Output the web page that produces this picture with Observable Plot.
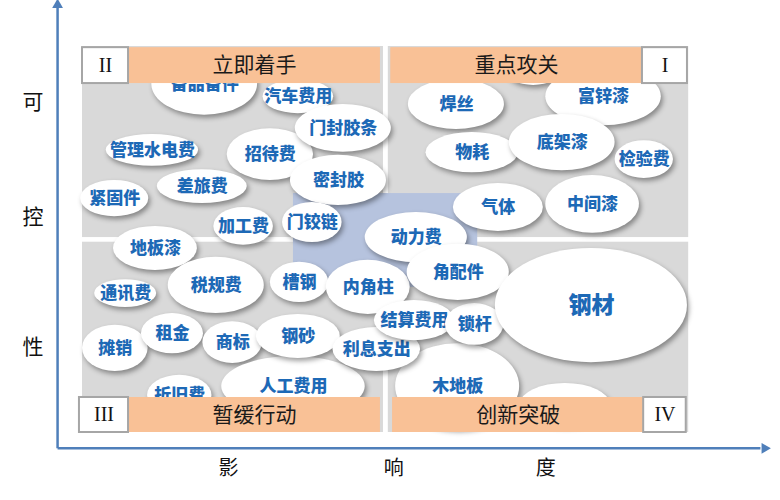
<!DOCTYPE html>
<html>
<head>
<meta charset="utf-8">
<script src="https://cdn.jsdelivr.net/npm/d3@7"></script>
<script src="https://cdn.jsdelivr.net/npm/@observablehq/plot@0.6"></script>
<style>
  body { margin: 0; background: #fff; }
  #chart svg { display: block; }
  g[aria-description="bubble"] rect { filter: drop-shadow(2px 3px 2.5px rgba(0,0,0,0.38)); }
</style>
</head>
<body>
<div id="chart"></div>
<script>
// Bubble labels (drawn in this order), impact (x), controllability (y), spread in x and y
const labels = ["备品备件","汽车费用","招待费","门封胶条","密封胶","管理水电费","差旅费","紧固件","加工费","门铰链",
  "","焊丝","富锌漆","物耗","底架漆","检验费","气体","中间漆","动力费","地板漆",
  "通讯费","税规费","槽钢","内角柱","摊销","租金","商标","人工费用","钢砂","折旧费",
  "木地板","利息支出","结算费用","锁杆","角配件","钢材",""];
const impact = [2.01,3.55,3.09,4.29,4.21,1.15,1.97,0.53,2.65,3.78,
  7.42,6.15,8.57,6.41,7.89,9.24,6.84,8.39,5.49,1.20,
  0.71,2.20,3.57,4.70,0.54,1.48,2.47,3.47,3.55,1.60,
  6.17,4.84,5.46,6.45,6.18,8.37,7.94];
const control = [9.02,8.70,7.20,7.88,6.53,7.31,6.37,6.06,5.34,5.44,
  9.38,8.50,8.70,7.25,7.51,7.07,5.83,5.91,5.05,4.77,
  3.60,3.81,3.89,3.76,2.18,2.56,2.33,1.19,2.49,0.96,
  1.19,2.15,2.90,2.80,4.15,3.29,0.72];
const spreadX = [0.87,0.58,0.71,0.79,0.79,0.76,0.74,0.56,0.49,0.49,
  0.46,0.79,0.95,0.76,0.87,0.48,0.74,0.77,0.84,0.69,
  0.51,0.79,0.48,0.69,0.54,0.51,0.49,1.18,0.69,0.53,
  1.02,0.72,0.66,0.48,0.84,1.58,0.74];
const spreadY = [0.80,0.44,0.67,0.62,0.65,0.41,0.44,0.47,0.49,0.52,
  0.39,0.65,0.75,0.52,0.73,0.49,0.62,0.75,0.65,0.57,
  0.36,0.73,0.52,0.70,0.60,0.52,0.54,0.78,0.57,0.52,
  1.11,0.57,0.52,0.54,0.73,1.48,0.55];

const quadrantNames = ["立即着手","重点攻关","暂缓行动","创新突破"];
const quadrantNumerals = ["II","I","III","IV"];
const xTitleChars = ["影","响","度"];
const xTitleTicks = [2.40, 5.12, 7.62];
const yTitleChars = ["可","控","性"];
const yTitleTicks = [8.55, 5.57, 2.20];

const bubbles = labels.map((label, i) => ({label, x: impact[i], y: control[i], rx: spreadX[i], ry: spreadY[i]}));

// layout (data units)
const quads = [
  {x1: 0, x2: 4.95, y1: 5.05, y2: 10},
  {x1: 5.03, x2: 9.97, y1: 5.05, y2: 10},
  {x1: 0, x2: 4.95, y1: 0, y2: 4.93},
  {x1: 5.03, x2: 9.97, y1: 0, y2: 4.93}
];
const banners = [
  {name: quadrantNames[0], x1: 0.757, x2: 4.90, y1: 9.04, y2: 9.97},
  {name: quadrantNames[1], x1: 5.07, x2: 9.21, y1: 9.04, y2: 9.97},
  {name: quadrantNames[2], x1: 0.757, x2: 4.90, y1: 0, y2: 0.907},
  {name: quadrantNames[3], x1: 5.10, x2: 9.23, y1: 0, y2: 0.907}
];
const boxes = [
  {name: quadrantNumerals[0], x1: 0, x2: 0.757, y1: 9.04, y2: 9.97},
  {name: quadrantNumerals[1], x1: 9.21, x2: 9.95, y1: 9.04, y2: 9.97},
  {name: quadrantNumerals[2], x1: -0.05, x2: 0.757, y1: 0, y2: 0.907},
  {name: quadrantNumerals[3], x1: 9.23, x2: 9.93, y1: 0, y2: 0.907}
];
const center = [{x1: 3.47, x2: 6.50, y1: 3.76, y2: 6.19}];

const axisColor = "#4f7fba";
const axisLines = [
  {x1: -0.41, y1: -0.41, x2: -0.41, y2: 11.0},
  {x1: -0.41, y1: -0.41, x2: 11.15, y2: -0.41}
];
const axisTips = [{x: -0.41, y: 11.08, rot: 0}, {x: 11.22, y: -0.41, rot: 90}];

const bubbleMarks = bubbles.flatMap(b => [
  Plot.rect([b], {x1: d => d.x - d.rx, x2: d => d.x + d.rx, y1: d => d.y - d.ry, y2: d => d.y + d.ry,
    fill: "#ffffff", rx: 1000, ry: 1000, ariaDescription: "bubble"}),
  Plot.text([b], {x: "x", y: "y", text: "label", fill: "#1d69b6", fontWeight: 900,
    fontSize: b.rx > 1.3 ? 23 : 17})
]);

const chart = Plot.plot({
  width: 780,
  height: 500,
  marginLeft: 82,
  marginRight: 90,
  marginTop: 46,
  marginBottom: 68,
  x: {domain: [0, 10]},
  y: {domain: [0, 10]},
  style: {fontFamily: "'Noto Sans CJK SC', 'Noto Sans', sans-serif", background: "#fff", overflow: "visible"},
  marks: [
    Plot.rect(quads, {x1: "x1", x2: "x2", y1: "y1", y2: "y2", fill: "#d9d9d9"}),
    Plot.rect(center, {x1: "x1", x2: "x2", y1: "y1", y2: "y2", fill: "#b6c3de"}),
    ...bubbleMarks,
    Plot.rect(banners, {x1: "x1", x2: "x2", y1: "y1", y2: "y2", fill: "#f9c196"}),
    Plot.text(banners, {x: d => (d.x1 + d.x2) / 2, y: d => (d.y1 + d.y2) / 2, text: "name", fontSize: 21, fill: "#1a1a1a"}),
    Plot.rect(boxes, {x1: "x1", x2: "x2", y1: "y1", y2: "y2", fill: "#fff", stroke: "#a6a6a6", strokeWidth: 2}),
    Plot.text(boxes, {x: d => (d.x1 + d.x2) / 2, y: d => (d.y1 + d.y2) / 2, text: "name", fontSize: 20, fill: "#111",
      fontFamily: "'Liberation Serif', 'DejaVu Serif', serif"}),
    Plot.link(axisLines, {x1: "x1", y1: "y1", x2: "x2", y2: "y2", stroke: axisColor, strokeWidth: 2.5}),
    Plot.dot(axisTips, {x: "x", y: "y", symbol: "triangle", r: 4, fill: axisColor, rotate: "rot"}),
    Plot.axisX({ticks: xTitleTicks, tickSize: 0, tickPadding: 28, fontSize: 20, label: null,
      tickFormat: d => xTitleChars[xTitleTicks.indexOf(d)], fill: "#111"}),
    Plot.axisY({ticks: yTitleTicks, tickSize: 0, tickPadding: 39, fontSize: 21, label: null,
      tickFormat: d => yTitleChars[yTitleTicks.indexOf(d)], fill: "#111"})
  ]
});

d3.select(chart).selectAll('g[aria-description="bubble"] rect').each(function() {
  const w = +this.getAttribute("width"), h = +this.getAttribute("height");
  this.setAttribute("rx", w / 2);
  this.setAttribute("ry", h / 2);
});

document.getElementById("chart").appendChild(chart);
</script>
</body>
</html>
